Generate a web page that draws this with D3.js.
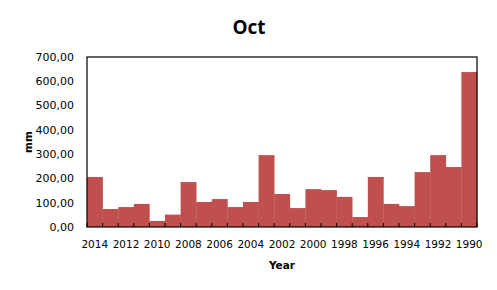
<!DOCTYPE html>
<html><head><meta charset="utf-8">
<script src="https://cdn.jsdelivr.net/npm/d3@7"></script>
<style>body{margin:0;background:#fff}svg{display:block}</style>
</head><body>
<script>
const years = [2014,2013,2012,2011,2010,2009,2008,2007,2006,2005,2004,2003,2002,2001,2000,1999,1998,1997,1996,1995,1994,1993,1992,1991,1990];
const values = [206,74,82,95,25,51,185,103,115,82,103,296,136,78,156,152,124,41,206,95,86,226,296,247,638];
const yTicks = [0,100,200,300,400,500,600,700];
const title = "Oct", xTitle = "Year", yTitle = "mm";

const W = 497, H = 290;
const m = {l:87, r:20, t:57, b:63};
const svg = d3.select("body").append("svg").attr("width",W).attr("height",H);
const iw = W - m.l - m.r, ih = H - m.t - m.b;
const x = d3.scaleBand().domain(years).range([m.l, m.l+iw]).padding(0);
const y = d3.scaleLinear().domain([0,700]).range([m.t+ih, m.t]);

svg.selectAll("rect.bar").data(years).join("rect").attr("class","bar")
  .attr("x", d=>x(d)).attr("width", x.bandwidth()+0.3)
  .attr("y", (d,i)=>y(values[i])).attr("height", (d,i)=>y(0)-y(values[i]))
  .attr("fill","#C0504D");

// inward ticks at category boundaries
const bounds = d3.range(years.length+1).map(i=>m.l + i*x.step());
svg.selectAll("line.tk").data(bounds).join("line").attr("class","tk")
  .attr("x1",d=>d).attr("x2",d=>d).attr("y1",y(0)).attr("y2",y(0)-4)
  .attr("stroke","#000").attr("stroke-width",1);

svg.append("rect").attr("x",m.l).attr("y",m.t).attr("width",iw).attr("height",ih)
  .attr("fill","none").attr("stroke","#000").attr("stroke-width",1.2);

const font = "DejaVu Sans, Verdana, sans-serif";
const fmt = v => d3.format(".2f")(v).replace(".",",");
svg.selectAll("text.yt").data(yTicks).join("text").attr("class","yt")
  .attr("x", m.l-13).attr("y", d=>y(d)).attr("dy","0.35em")
  .attr("text-anchor","end").attr("font-family",font).attr("font-size",11).text(fmt);

svg.selectAll("text.xt").data(years.filter((d,i)=>i%2===0)).join("text").attr("class","xt")
  .attr("x", d=>x(d)+x.bandwidth()/2).attr("y", 248)
  .attr("text-anchor","middle").attr("font-family",font).attr("font-size",10.5).text(d=>d);

svg.append("text").attr("x", m.l+iw/2).attr("y", 269).attr("text-anchor","middle")
  .attr("font-family",font).attr("font-weight","bold").attr("font-size",10.5).text(xTitle);
svg.append("text").attr("transform",`translate(32,${m.t+ih/2}) rotate(-90)`).attr("text-anchor","middle")
  .attr("font-family",font).attr("font-weight","bold").attr("font-size",10.5).text(yTitle);
svg.append("text").attr("x", 249).attr("y", 34).attr("text-anchor","middle")
  .attr("font-family","Open Sans, Liberation Sans, sans-serif").attr("font-weight","bold").attr("font-size",19).text(title);
</script>
</body></html>
